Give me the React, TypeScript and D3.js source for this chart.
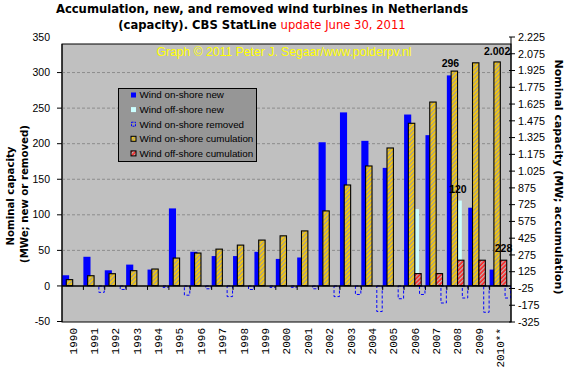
import * as d3 from 'd3'

// Years on the x axis
const years = [
  '1990', '1991', '1992', '1993', '1994', '1995', '1996', '1997', '1998', '1999', '2000',
  '2001', '2002', '2003', '2004', '2005', '2006', '2007', '2008', '2009', '2010**',
]

// Left axis (MWe per year)
const onshoreNew = [15, 41, 22, 30, 23, 109, 48, 42, 42, 48, 38, 40, 202, 244, 204, 166, 241, 212, 296, 110, 23]
const offshoreNew = [0, 0, 0, 0, 0, 0, 0, 0, 0, 0, 0, 0, 0, 0, 0, 0, 108, 0, 120, 0, 0]
const onshoreRemoved = [0, -9, -5, 0, -2, -13, -4, -15, -5, -2, -2, -4, -15, -12, -36, -18, -12, -24, -17, -37, -17]

// Right axis (MW cumulative)
const onshoreCum = [54, 89, 107, 134, 149, 247, 292, 327, 363, 408, 446, 490, 669, 901, 1071, 1232, 1453, 1643, 1920, 1994, 2002]
const offshoreCum = [0, 0, 0, 0, 0, 0, 0, 0, 0, 0, 0, 0, 0, 0, 0, 0, 108, 108, 228, 228, 228]

const leftTicks = [-50, 0, 50, 100, 150, 200, 250, 300, 350]
const gridTicks = [50, 100, 150, 200, 250, 300]
const rightTicks = [-325, -175, -25, 125, 275, 425, 575, 725, 875, 1025, 1175, 1325, 1475, 1625, 1775, 1925, 2075, 2225]

const nlFormat = d3
  .formatLocale({ decimal: ',', thousands: '.', grouping: [3], currency: ['', ''], minus: '-' })
  .format(',d')

export default function App() {
  const width = 571
  const height = 372

  const frameLeft = 62
  const frameRight = 511
  const frameTop = 44
  const frameBottom = 322

  const x = d3.scaleBand<string>().domain(years).range([frameLeft, frameRight]).padding(0)
  const bw = x.bandwidth()
  // primary slots: on-shore new, off-shore new, removed
  const s1 = bw / 3
  const s2 = bw * 0.7
  const secW = bw * 0.3
  const secOff = (bw - 2 * secW) / 2

  const yL = d3.scaleLinear().domain([-50, 350]).range([321.5, 37])
  const yR = d3.scaleLinear().domain([-325, 2225]).range([322, 37])

  const sans = '"Liberation Sans", Arial, sans-serif'
  const bold = '"DejaVu Sans", Verdana, sans-serif'

  const idx2008 = years.indexOf('2008')
  const idx2010 = years.indexOf('2010**')

  const legendItems = [
    { label: 'Wind on-shore new', kind: 'blue' },
    { label: 'Wind off-shore new', kind: 'cyan' },
    { label: 'Wind on-shore removed', kind: 'removed' },
    { label: 'Wind on-shore cumulation', kind: 'yellow' },
    { label: 'Wind off-shore cumulation', kind: 'red' },
  ]

  return (
    <>
      <style>{'body{margin:0}'}</style>
      <svg width={width} height={height} style={{ display: 'block', background: '#ffffff' }}>
        <defs>
          <pattern id="hatchY" patternUnits="userSpaceOnUse" width="3" height="3" patternTransform="rotate(45)">
            <rect width="3" height="3" fill="#ffcc00" />
            <rect width="1.3" height="3" fill="#9a9a9a" />
          </pattern>
          <pattern id="hatchR" patternUnits="userSpaceOnUse" width="3" height="3" patternTransform="rotate(45)">
            <rect width="3" height="3" fill="#ff2020" />
            <rect width="1.3" height="3" fill="#b8b8b8" />
          </pattern>
        </defs>

        {/* Titles */}
        <text x={262} y={13} textAnchor="middle" fontFamily={bold} fontWeight="bold" fontSize={11.6}>
          Accumulation, new, and removed wind turbines in Netherlands
        </text>
        <text x={262} y={29} textAnchor="middle" fontFamily={bold} fontSize={11.6}>
          <tspan fontWeight="bold">(capacity). CBS StatLine </tspan>
          <tspan fill="#ff0000">update June 30, 2011</tspan>
        </text>

        {/* Plot area */}
        <rect x={frameLeft} y={frameTop} width={frameRight - frameLeft} height={frameBottom - frameTop} fill="#c0c0c0" stroke="#000" strokeWidth={1} />

        {gridTicks.map(t => (
          <line key={t} x1={frameLeft} x2={frameRight} y1={yL(t)} y2={yL(t)} stroke="#8c8c8c" strokeDasharray="3,2" />
        ))}

        <text x={284} y={56} textAnchor="middle" fontFamily={sans} fontSize={12.2} fill="#ffff00">
          Graph © 2011 Peter J. Segaar/www.polderpv.nl
        </text>

        {/* Primary: new and removed */}
        {years.map((yr, i) => {
          const x0 = x(yr) as number
          return (
            <g key={'p' + yr}>
              {onshoreNew[i] > 0 && (
                <rect x={x0} y={yL(onshoreNew[i])} width={s1} height={yL(0) - yL(onshoreNew[i])} fill="#0000ff" />
              )}
              {offshoreNew[i] > 0 && (
                <rect x={x0 + s1} y={yL(offshoreNew[i])} width={s2 - s1} height={yL(0) - yL(offshoreNew[i])} fill="#ccffff" />
              )}
              {onshoreRemoved[i] < 0 && (
                <rect x={x0 + s2 + 0.5} y={yL(0)} width={bw - s2 - 1} height={yL(onshoreRemoved[i]) - yL(0)} fill="none" stroke="#0000ff" strokeDasharray="3,2" />
              )}
            </g>
          )
        })}

        {/* Secondary: cumulation */}
        {years.map((yr, i) => {
          const x0 = (x(yr) as number) + secOff
          return (
            <g key={'s' + yr}>
              {onshoreCum[i] > 0 && (
                <rect x={x0} y={yR(onshoreCum[i])} width={secW} height={yR(0) - yR(onshoreCum[i])} fill="url(#hatchY)" stroke="#000" strokeWidth={1.1} />
              )}
              {offshoreCum[i] > 0 && (
                <rect x={x0 + secW} y={yR(offshoreCum[i])} width={secW} height={yR(0) - yR(offshoreCum[i])} fill="url(#hatchR)" stroke="#000" strokeWidth={1.1} />
              )}
            </g>
          )
        })}

        {/* Value labels */}
        <g fontFamily={sans} fontWeight="bold" fontSize={10.5} textAnchor="middle">
          <text x={(x('2008') as number) + s1 / 2} y={yL(onshoreNew[idx2008]) - 8}>{onshoreNew[idx2008]}</text>
          <text x={(x('2008') as number) + (s1 + s2) / 2} y={yL(offshoreNew[idx2008]) - 8}>{offshoreNew[idx2008]}</text>
          <text x={(x('2010**') as number) + secOff + secW / 2} y={yR(onshoreCum[idx2010]) - 7}>{nlFormat(onshoreCum[idx2010])}</text>
          <text x={(x('2010**') as number) + secOff + secW * 1.5} y={yR(offshoreCum[idx2010]) - 8}>{offshoreCum[idx2010]}</text>
        </g>

        {/* Zero line with category ticks */}
        <line x1={frameLeft} x2={frameRight} y1={yL(0)} y2={yL(0)} stroke="#000" strokeWidth={1.5} />
        {years.slice(1).map(yr => (
          <line key={'t' + yr} x1={x(yr) as number} x2={x(yr) as number} y1={yL(0)} y2={yL(0) + 4} stroke="#000" />
        ))}

        {/* Left axis */}
        <line x1={frameLeft} x2={frameLeft} y1={frameTop} y2={frameBottom} stroke="#000" />
        {leftTicks.map(t => (
          <g key={'l' + t}>
            {yL(t) >= frameTop && <line x1={frameLeft - 5} x2={frameLeft} y1={yL(t)} y2={yL(t)} stroke="#000" />}
            <text x={50} y={yL(t)} dy="0.35em" textAnchor="end" fontFamily={sans} fontSize={10.5}>{t}</text>
          </g>
        ))}

        {/* Right axis */}
        <line x1={frameRight} x2={frameRight} y1={yR(2225)} y2={frameBottom} stroke="#000" />
        {rightTicks.map(t => (
          <g key={'r' + t}>
            <line x1={frameRight - 2} x2={frameRight + 4} y1={yR(t)} y2={yR(t)} stroke="#000" />
            <text x={518} y={yR(t)} dy="0.35em" fontFamily={sans} fontSize={10.8}>{nlFormat(t)}</text>
          </g>
        ))}

        {/* X labels */}
        {years.map(yr => {
          const cx = (x(yr) as number) + bw / 2
          return (
            <text key={'x' + yr} transform={`translate(${cx},328) rotate(-90)`} textAnchor="end" dy="0.35em" fontFamily='"Liberation Mono", monospace' fontSize={11}>
              {yr}
            </text>
          )
        })}

        {/* Axis titles */}
        <g fontFamily={bold} fontWeight="bold" textAnchor="middle">
          <text transform="translate(14,196) rotate(-90)" fontSize={10.2}>Nominal capacity</text>
          <text transform="translate(28,194) rotate(-90)" fontSize={10.2}>(MWe; new or removed)</text>
          <text transform="translate(555,177) rotate(90)" fontSize={11}>Nominal capacity (MW; accumulation)</text>
        </g>

        {/* Legend */}
        <g>
          <rect x={118.5} y={88.5} width={138} height={73} fill="#969696" stroke="#000" />
          {legendItems.map((d, i) => {
            const cy = 95 + i * 14.6
            const mx = 131
            return (
              <g key={d.label}>
                {d.kind === 'blue' && <rect x={mx} y={cy - 2.5} width={5} height={5} fill="#0000ff" />}
                {d.kind === 'cyan' && <rect x={mx} y={cy - 2.5} width={5} height={5} fill="#ccffff" />}
                {d.kind === 'removed' && <rect x={mx + 0.5} y={cy - 2} width={4} height={4} fill="none" stroke="#0000ff" strokeDasharray="2,1" />}
                {d.kind === 'yellow' && <rect x={mx} y={cy - 2.5} width={5} height={5} fill="url(#hatchY)" stroke="#000" />}
                {d.kind === 'red' && <rect x={mx} y={cy - 2.5} width={5} height={5} fill="url(#hatchR)" stroke="#000" />}
                <text x={139.5} y={cy} dy="0.35em" fontFamily={sans} fontSize={9.8}>{d.label}</text>
              </g>
            )
          })}
        </g>
      </svg>
    </>
  )
}
